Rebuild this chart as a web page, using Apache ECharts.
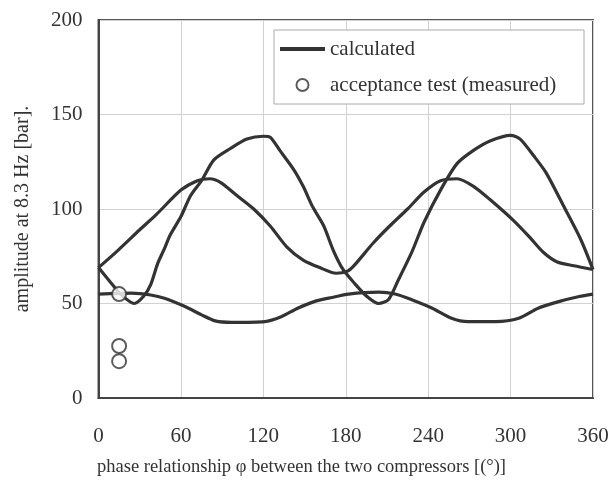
<!DOCTYPE html>
<html>
<head>
<meta charset="utf-8">
<script src="https://cdn.jsdelivr.net/npm/echarts@6/dist/echarts.min.js"></script>
<style>
html,body{margin:0;padding:0;background:#fff;}
#chart{width:616px;height:490px;}
</style>
</head>
<body>
<div id="chart"></div>
<script>
// ---- data ----
const xTicks = [0, 60, 120, 180, 240, 300, 360];
const yTicks = [0, 50, 100, 150, 200];

// calculated curve 1 (medium amplitude, peaks ~116)
const calcA = [[0,69],[14,78],[30,89],[42,97],[60,110],[72,115],[81,116],[89,114],[101,107],[113,100],[125,91],[137,80],[149,73],[161,69],[173,66],[181,67],[186,70],[200,82],[212,91],[225,100],[237,109],[249,115],[261,116],[273,112],[285,105],[302,94],[314,85],[324,77],[334,72],[346,70],[360,68]];
// calculated curve 2 (large amplitude, peaks ~138)
const calcB = [[0,69],[9,61],[16,55],[26,50],[33,54],[38,60],[43,71],[48,79],[52,86],[60,96],[67,107],[75,115],[84,126],[96,132],[108,137],[120,138.5],[125,138],[132,131],[142,121],[149,112],[156,101],[164,91],[171,78],[178,68],[186,61],[195,54],[204,50],[211,52],[218,62],[228,77],[237,93],[249,110],[261,124],[273,131],[285,136],[300,139],[307,137],[317,128],[326,119],[339,101],[351,84],[360,68]];
// calculated curve 3 (small amplitude, 40..56)
const calcC = [[0,55],[24,55.5],[38,54.5],[48,52.8],[63,48.4],[75,44],[85,40.8],[97,40],[121,40.4],[133,43],[145,47.5],[157,51],[170,53.2],[182,55],[204,56],[216,55],[228,52],[243,47.5],[257,42.2],[269,40.4],[289,40.4],[306,42.2],[320,47.5],[335,51],[350,53.7],[360,55]];
// acceptance test (measured)
const measured = [[15,55],[15,27.5],[15,19.5]];

const seriesNames = ['calculated', 'acceptance test (measured)'];
const xTitle = 'phase relationship \u03c6 between the two compressors [(\u00b0)]';
const yTitle = 'amplitude at 8.3 Hz [bar].';

// ---- chart ----
const FONT = '"Liberation Serif", "Times New Roman", serif';
const LINE = '#333';
const chart = echarts.init(document.getElementById('chart'), null, {renderer: 'canvas'});

function calcSeries(data) {
  return {
    type: 'line', name: seriesNames[0], data: data, smooth: 0.25,
    symbol: 'none', lineStyle: {color: LINE, width: 3.2}, itemStyle: {color: LINE},
    z: 3, animation: false
  };
}

chart.setOption({
  animation: false,
  backgroundColor: '#fff',
  grid: {left: 98.5, right: 23, top: 20, bottom: 92, show: true, borderColor: '#555', borderWidth: 2, containLabel: false, outerBoundsMode: 'none'},
  xAxis: {
    type: 'value', min: xTicks[0], max: xTicks[xTicks.length - 1], interval: 60,
    axisLine: {show: true, lineStyle: {color: '#444', width: 2}},
    axisTick: {show: false},
    splitLine: {show: true, lineStyle: {color: '#d2d2d2', width: 1}},
    axisLabel: {margin: 28, color: '#333', fontFamily: FONT, fontSize: 21}
  },
  yAxis: {
    type: 'value', min: yTicks[0], max: yTicks[yTicks.length - 1], interval: 50,
    name: yTitle, nameLocation: 'middle', nameGap: 66,
    nameTextStyle: {color: '#333', fontFamily: FONT, fontSize: 20},
    axisLine: {show: true, lineStyle: {color: '#444', width: 2}},
    axisTick: {show: false},
    splitLine: {show: true, lineStyle: {color: '#d2d2d2', width: 1}},
    axisLabel: {margin: 16, color: '#333', fontFamily: FONT, fontSize: 21}
  },
  legend: {
    orient: 'vertical', left: 274, top: 30,
    padding: [8, 4, 8, 6], itemGap: 14, itemWidth: 45, itemHeight: 12,
    borderColor: '#aaa', borderWidth: 1, backgroundColor: '#fff',
    data: [
      {name: seriesNames[0], icon: 'path://M0,0L45,0L45,4L0,4Z', itemStyle: {color: LINE}},
      {name: seriesNames[1]}
    ],
    textStyle: {color: '#333', fontFamily: FONT, fontSize: 21, lineHeight: 22, width: 250}
  },
  graphic: [{
    type: 'text', left: 97, top: 458,
    style: {text: xTitle, fill: '#333', font: '18.5px ' + FONT}
  }],
  series: [
    calcSeries(calcA),
    calcSeries(calcB),
    calcSeries(calcC),
    {
      type: 'scatter', name: seriesNames[1], data: measured,
      symbol: 'circle', symbolSize: 14,
      itemStyle: {color: '#fff', borderColor: '#333', borderWidth: 2},
      z: 5
    }
  ]
});
</script>
</body>
</html>
